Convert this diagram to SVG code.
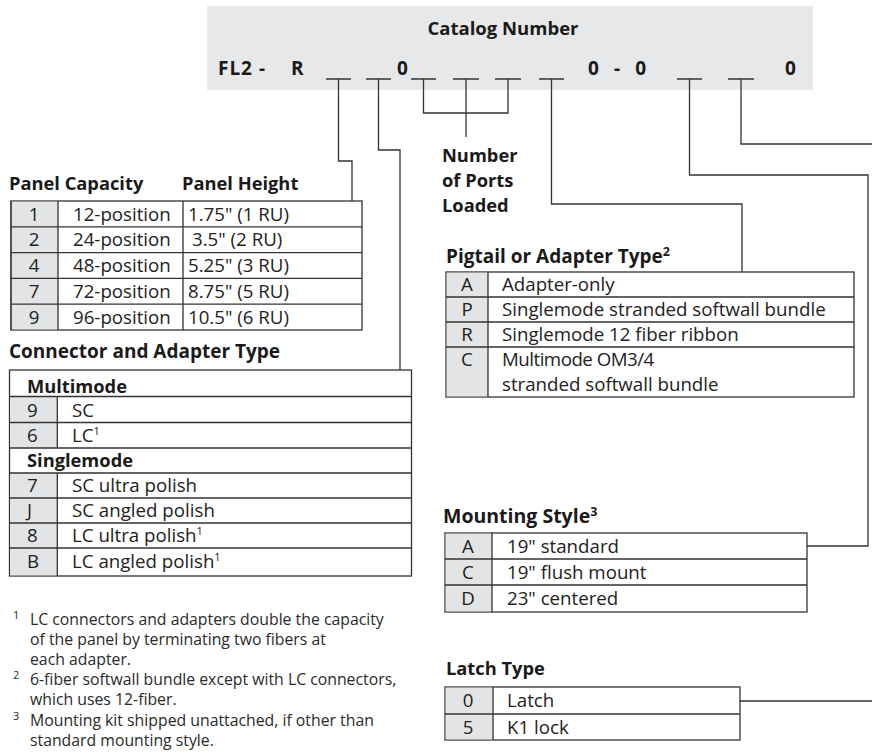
<svg xmlns="http://www.w3.org/2000/svg" width="872" height="753" viewBox="0 0 872 753">
<style>
text{font-family:"Open Sans","Noto Sans","DejaVu Sans",sans-serif;fill:#1a1a1a}
.h{font-size:18.3px;font-weight:700}
.cat{font-size:19px;font-weight:700}
.t{font-size:18.7px;fill:#222}
.fn{font-size:15.8px;fill:#2a2a2a}
.sup{font-size:11px}
.c{text-anchor:middle}
.box{fill:#fff;stroke:#333;stroke-width:1.3}
.g{fill:#e3e4e5;stroke:none}
.ln{stroke:#333;stroke-width:1.3;fill:none}
</style>
<rect width="872" height="753" fill="#fff"/>
<g id="catalog">
<rect x="207" y="6" width="606" height="84" fill="#e7e8e9"/>
<text class="h c" x="503" y="35" style="font-size:18.5px">Catalog Number</text>
<text class="cat" x="218" y="75" textLength="47" lengthAdjust="spacing">FL2 -</text>
<text class="cat" x="291" y="75">R</text>
<text class="cat" x="397" y="75">0</text>
<text class="cat" x="588" y="75" textLength="58" lengthAdjust="spacing">0 - 0</text>
<text class="cat" x="785" y="75">0</text>
<g class="ln">
<path d="M326 79H351M366 79H391M411 79H436M453 79H479M495 79H521M539 79H564M677 79H702M728 79H754"/>
</g>
</g>
<g id="connectors" class="ln">
<path d="M338.5 79V161H352V201"/>
<path d="M378.5 79V150H400V370"/>
<path d="M423.5 79V113H508V79"/>
<path d="M466 79V137"/>
<path d="M551.5 79V204H742V272"/>
<path d="M689.5 79V175H868V546H807"/>
<path d="M741 79V144H872"/>
<path d="M740 701H872"/>
</g>
<g id="ports-label">
<text class="h" x="442" y="162">Number</text>
<text class="h" x="442" y="187">of Ports</text>
<text class="h" x="442" y="212">Loaded</text>
</g>
<g id="panel-table">
<text class="h" x="9" y="190">Panel Capacity</text>
<text class="h" x="182" y="190">Panel Height</text>
<rect class="box" x="11" y="201" width="351" height="129"/>
<rect class="g" x="11.7" y="201.7" width="46.3" height="127.6"/>
<g class="ln">
<path d="M11 201V330M58 201V330M183 201V330M11 226.8H362M11 252.6H362M11 278.4H362M11 304.2H362"/>
</g>
<text class="t c" x="34" y="220.5">1</text><text class="t" x="73" y="220.5">12-position</text><text class="t" x="188" y="220.5">1.75" (1 RU)</text>
<text class="t c" x="34" y="246.3">2</text><text class="t" x="73" y="246.3">24-position</text><text class="t" x="192" y="246.3">3.5" (2 RU)</text>
<text class="t c" x="34" y="272.1">4</text><text class="t" x="73" y="272.1">48-position</text><text class="t" x="188" y="272.1">5.25" (3 RU)</text>
<text class="t c" x="34" y="297.9">7</text><text class="t" x="73" y="297.9">72-position</text><text class="t" x="188" y="297.9">8.75" (5 RU)</text>
<text class="t c" x="34" y="323.7">9</text><text class="t" x="73" y="323.7">96-position</text><text class="t" x="188" y="323.7">10.5" (6 RU)</text>
</g>
<g id="connector-table">
<text class="h" x="9" y="358" style="font-size:19px">Connector and Adapter Type</text>
<rect class="box" x="9.5" y="370" width="402" height="206"/>
<rect class="g" x="10.2" y="396.5" width="47" height="51.5"/>
<rect class="g" x="10.2" y="473" width="47" height="102.3"/>
<g class="ln">
<path d="M9.5 396.5H411.5M9.5 422.5H411.5M9.5 448H411.5M9.5 473H411.5M9.5 498H411.5M9.5 523H411.5M9.5 548H411.5M57.3 396.5V448M57.3 473V576"/>
</g>
<text class="h" x="27" y="393">Multimode</text>
<text class="t" x="27" y="416.5">9</text><text class="t" x="72" y="416.5">SC</text>
<text class="t" x="27" y="441.5">6</text><text class="t" x="72" y="441.5">LC<tspan class="sup" dy="-7">1</tspan></text>
<text class="h" x="27" y="467">Singlemode</text>
<text class="t" x="27" y="492">7</text><text class="t" x="72" y="492">SC ultra polish</text>
<text class="t" x="27" y="517">J</text><text class="t" x="72" y="517">SC angled polish</text>
<text class="t" x="27" y="542">8</text><text class="t" x="72" y="542">LC ultra polish<tspan class="sup" dy="-7">1</tspan></text>
<text class="t" x="27" y="567.5">B</text><text class="t" x="72" y="567.5">LC angled polish<tspan class="sup" dy="-7">1</tspan></text>
</g>
<g id="pigtail-table">
<text class="h" x="446" y="263" style="font-size:19px">Pigtail or Adapter Type<tspan class="sup" dy="-7" style="font-size:12.5px">2</tspan></text>
<rect class="box" x="446" y="272" width="408" height="125"/>
<rect class="g" x="446.7" y="272.7" width="41.3" height="123.6"/>
<g class="ln">
<path d="M446 297H854M446 322H854M446 347H854M488 272V397"/>
</g>
<text class="t c" x="467" y="291">A</text><text class="t" x="502" y="291">Adapter-only</text>
<text class="t c" x="467" y="316">P</text><text class="t" x="502" y="316">Singlemode stranded softwall bundle</text>
<text class="t c" x="467" y="341">R</text><text class="t" x="502" y="341">Singlemode 12 fiber ribbon</text>
<text class="t c" x="467" y="366">C</text><text class="t" x="502" y="366" style="letter-spacing:-0.5px">Multimode OM3/4</text>
<text class="t" x="502" y="391">stranded softwall bundle</text>
</g>
<g id="mounting-table">
<text class="h" x="443" y="523" style="font-size:19.5px">Mounting Style<tspan class="sup" dy="-7" style="font-size:12.5px">3</tspan></text>
<rect class="box" x="445" y="533" width="362" height="79"/>
<rect class="g" x="445.7" y="533.7" width="46.3" height="77.6"/>
<g class="ln">
<path d="M445 559H807M445 585H807M492 533V612"/>
</g>
<text class="t c" x="468" y="552.5">A</text><text class="t" x="507" y="552.5">19" standard</text>
<text class="t c" x="468" y="578.5">C</text><text class="t" x="507" y="578.5">19" flush mount</text>
<text class="t c" x="468" y="605">D</text><text class="t" x="507" y="605">23" centered</text>
</g>
<g id="latch-table">
<text class="h" x="446" y="675">Latch Type</text>
<rect class="box" x="445" y="687" width="295" height="53"/>
<rect class="g" x="445.7" y="687.7" width="47.3" height="51.6"/>
<g class="ln">
<path d="M445 714H740M493 687V740"/>
</g>
<text class="t c" x="468" y="707">0</text><text class="t" x="507" y="707">Latch</text>
<text class="t c" x="468" y="733.5">5</text><text class="t" x="507" y="733.5">K1 lock</text>
</g>
<g id="footnotes">
<text class="fn sup" x="13" y="619">1</text>
<text class="fn" x="30" y="625">LC connectors and adapters double the capacity</text>
<text class="fn" x="30" y="645">of the panel by terminating two fibers at</text>
<text class="fn" x="30" y="665">each adapter.</text>
<text class="fn sup" x="13" y="679">2</text>
<text class="fn" x="30" y="685">6-fiber softwall bundle except with LC connectors,</text>
<text class="fn" x="30" y="705">which uses 12-fiber.</text>
<text class="fn sup" x="13" y="720">3</text>
<text class="fn" x="30" y="726">Mounting kit shipped unattached, if other than</text>
<text class="fn" x="30" y="746">standard mounting style.</text>
</g>
</svg>
